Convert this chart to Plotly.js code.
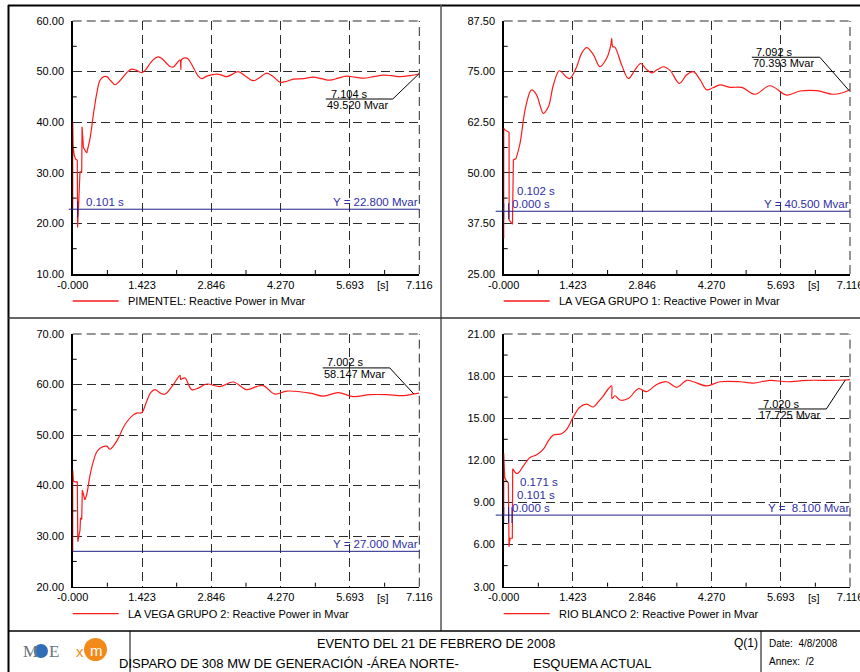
<!DOCTYPE html>
<html>
<head>
<meta charset="utf-8">
<script src="https://cdn.plot.ly/plotly-3.0.1.min.js"></script>
<style>
  html, body { margin: 0; padding: 0; background: #fff; }
  #chart { width: 860px; height: 672px; }
</style>
</head>
<body>
<div id="chart"></div>
<script>
// ---- time axis shared by all four plots (s) ----
const timeTicks = [0, 1.423, 2.846, 4.270, 5.693, 7.116];
const timeTickText = ['-0.000', '1.423', '2.846', '4.270', '5.693', '7.116'];

// ---- reactive power axes (Mvar) ----
const yTicks1 = [10, 20, 30, 40, 50, 60];
const yTicks2 = [25, 37.5, 50, 62.5, 75, 87.5];
const yTicks3 = [20, 30, 40, 50, 60, 70];
const yTicks4 = [3, 6, 9, 12, 15, 18, 21];

const seriesNames = [
  'PIMENTEL: Reactive Power in Mvar',
  'LA VEGA GRUPO 1: Reactive Power in Mvar',
  'LA VEGA GRUPO 2: Reactive Power in Mvar',
  'RIO BLANCO 2: Reactive Power in Mvar'
];

// ---- PIMENTEL ----
const pimentelStepT = [0, 0, 0.008, 0.03, 0.06, 0.094, 0.101, 0.15, 0.185, 0.192, 0.22, 0.287];
const pimentelStepQ = [22.8, 40.1, 35.5, 33.5, 32.7, 32.5, 19.2, 30.2, 30.2, 39.1, 35.0, 33.9];
const pimentelT = [0.287, 0.36, 0.424, 0.5, 0.561, 0.64, 0.70, 0.78, 0.869, 0.95, 1.04, 1.13, 1.211, 1.30, 1.416, 1.50, 1.587, 1.67, 1.758, 1.84, 1.929, 2.0, 2.066, 2.15, 2.203, 2.22, 2.237, 2.30, 2.36, 2.42, 2.50, 2.57, 2.648, 2.75, 2.88, 2.956, 3.06, 3.161, 3.28, 3.40, 3.55, 3.708, 3.85, 3.982, 4.12, 4.256, 4.40, 4.53, 4.74, 4.94, 5.11, 5.28, 5.45, 5.62, 5.80, 5.97, 6.18, 6.38, 6.55, 6.72, 6.92, 7.104, 7.116];
const pimentelQ = [33.9, 37.0, 41.5, 46.0, 48.3, 49.0, 49.0, 48.2, 47.4, 48.0, 49.0, 50.0, 50.5, 50.3, 49.8, 50.4, 51.6, 52.5, 52.9, 52.5, 51.6, 51.0, 50.9, 51.8, 52.3, 50.4, 52.4, 52.7, 52.6, 51.8, 50.4, 49.2, 48.6, 49.1, 49.4, 49.5, 49.3, 49.0, 49.5, 50.0, 49.1, 48.2, 48.9, 49.7, 49.0, 47.9, 48.1, 48.5, 48.6, 48.9, 48.6, 48.3, 48.7, 49.1, 48.9, 48.7, 49.0, 49.3, 49.2, 49.0, 49.2, 49.52, 49.55];

// ---- LA VEGA GRUPO 1 ----
const vega1StepT = [0, 0, 0, 0.027, 0.06, 0.096, 0.110, 0.112, 0.13, 0.164, 0.18, 0.199, 0.253];
const vega1StepQ = [40.5, 33.8, 61.0, 60.6, 60.3, 60.2, 60.0, 38.3, 38.0, 37.3, 37.3, 53.2, 53.5];
const vega1T = [0.253, 0.336, 0.438, 0.541, 0.575, 0.678, 0.75, 0.815, 0.918, 1.021, 1.144, 1.294, 1.363, 1.500, 1.60, 1.705, 1.842, 1.979, 2.116, 2.20, 2.219, 2.240, 2.288, 2.425, 2.562, 2.698, 2.815, 2.938, 3.041, 3.16, 3.281, 3.418, 3.609, 3.760, 3.897, 4.034, 4.171, 4.30, 4.445, 4.650, 4.890, 5.164, 5.472, 5.815, 6.089, 6.431, 6.774, 7.092, 7.116];
const vega1Q = [53.5, 57.3, 65.5, 70.0, 70.5, 69.2, 66.5, 64.7, 66.3, 71.7, 75.2, 73.6, 73.3, 76.2, 79.5, 80.9, 79.2, 76.2, 78.3, 81.5, 83.2, 81.2, 81.0, 76.6, 73.3, 75.4, 77.0, 75.5, 74.7, 75.5, 76.2, 75.3, 72.1, 74.2, 75.0, 73.0, 70.5, 71.0, 71.7, 71.1, 71.1, 69.4, 71.5, 69.2, 70.2, 70.3, 69.4, 70.393, 70.6];

// ---- LA VEGA GRUPO 2 ----
const vega2StepT = [0, 0, 0.015, 0.04, 0.094, 0.105, 0.15, 0.16, 0.185, 0.197, 0.25];
const vega2StepQ = [27.0, 43.1, 40.9, 40.8, 40.7, 28.9, 31.2, 33.6, 33.3, 39.1, 37.2];
const vega2T = [0.25, 0.287, 0.35, 0.424, 0.49, 0.561, 0.698, 0.766, 0.903, 1.074, 1.245, 1.33, 1.416, 1.519, 1.60, 1.690, 1.80, 1.895, 2.066, 2.203, 2.215, 2.237, 2.306, 2.443, 2.579, 2.751, 3.024, 3.298, 3.572, 3.777, 3.914, 4.153, 4.393, 4.872, 5.145, 5.453, 5.761, 6.103, 6.445, 6.787, 7.002, 7.116];
const vega2Q = [37.2, 38.2, 41.8, 44.8, 46.6, 47.4, 47.8, 47.2, 48.8, 52.1, 54.0, 54.4, 54.4, 56.7, 58.4, 59.0, 58.3, 58.1, 60.0, 61.8, 61.0, 61.1, 61.3, 59.0, 59.3, 60.1, 59.6, 60.5, 59.0, 59.6, 59.8, 58.1, 58.7, 58.3, 57.7, 58.4, 57.6, 58.0, 58.0, 57.8, 58.147, 58.3];

// ---- RIO BLANCO 2 ----
const rioStepT = [0, 0, 0.02, 0.06, 0.095, 0.11, 0.13, 0.177, 0.185, 0.22, 0.25];
const rioStepQ = [8.1, 12.5, 10.8, 10.5, 10.4, 5.85, 6.45, 6.45, 11.4, 11.2, 11.07];
const rioT = [0.25, 0.301, 0.404, 0.541, 0.678, 0.815, 0.92, 1.021, 1.192, 1.294, 1.431, 1.568, 1.705, 1.842, 1.95, 2.048, 2.15, 2.219, 2.226, 2.288, 2.390, 2.562, 2.767, 2.938, 3.144, 3.349, 3.555, 3.760, 3.897, 4.171, 4.445, 4.856, 5.130, 5.472, 5.815, 6.226, 6.705, 7.020, 7.116];
const rioQ = [11.07, 11.1, 11.6, 12.2, 12.4, 12.8, 13.4, 13.8, 13.9, 14.2, 15.1, 15.8, 16.0, 15.8, 16.2, 16.6, 17.1, 17.3, 16.4, 16.6, 16.3, 16.4, 17.1, 16.9, 17.4, 17.6, 17.2, 17.7, 17.6, 17.3, 17.6, 17.6, 17.5, 17.7, 17.6, 17.7, 17.7, 17.725, 17.75];

// ---- cursors: constant level (Y =) and time stamps ----
const levelQ = [22.8, 40.5, 27.0, 8.1];
const cursorT1 = [0.101];
const cursorT2 = [0.000, 0.102];
const cursorT3 = [];
const cursorT4 = [0.000, 0.101, 0.171];

// ---- end-of-run readouts ----
const readoutT = [7.104, 7.092, 7.002, 7.020];
const readoutQ = [49.520, 70.393, 58.147, 17.725];

// ================= drawing =================
const W = 860, H = 672;
const px = v => v / W;
const py = v => 1 - v / H;

const RED = '#ff1a1a';
const BLUE_LINE = '#20208a';
const BLUE_TEXT = '#2e2ea6';
const GRID = '#2c2c2c';
const DASH = '9px,5px';
const FONT = 'Liberation Sans, Arial, sans-serif';

const steps = [[pimentelStepT, pimentelStepQ], [vega1StepT, vega1StepQ], [vega2StepT, vega2StepQ], [rioStepT, rioStepQ]];
const swings = [[pimentelT, pimentelQ], [vega1T, vega1Q], [vega2T, vega2Q], [rioT, rioQ]];
const yTickSets = [yTicks1, yTicks2, yTicks3, yTicks4];
const cursorSets = [cursorT1, cursorT2, cursorT3, cursorT4];

// plot rectangles in page pixels
const frames = [
  { l: 72.7, r: 419.3, t: 21, b: 274, lineExt: 4 },
  { l: 503.7, r: 850, t: 21, b: 274, lineExt: 8 },
  { l: 72.7, r: 419.3, t: 334, b: 586.7, lineExt: 0 },
  { l: 503.7, r: 850, t: 334, b: 586.7, lineExt: 8 }
];
// readout callout geometry in pixels relative to the readout point (up = +)
const callouts = [
  { x0: -93, x1: -26, y: -25, tDx: -89, tDy: -20, vDx: -93, vDy: -31 },
  { x0: -97, x1: -29, y: 33, tDx: -94, tDy: 38, vDx: -97, vDy: 27 },
  { x0: -91, x1: -24, y: 26, tDx: -88, tDy: 32, vDx: -91, vDy: 20 },
  { x0: -87, x1: -19, y: -29, tDx: -83, tDy: -24, vDx: -87, vDy: -35 }
];

const mid = a => a.slice(1).map((v, i) => (v + a[i]) / 2);

const traces = [];
const layout = {
  width: W, height: H, autosize: false,
  margin: { l: 0, r: 0, t: 0, b: 0 },
  paper_bgcolor: '#fff', plot_bgcolor: '#fff',
  showlegend: false,
  font: { family: FONT, size: 11, color: '#000' },
  shapes: [], annotations: []
};

frames.forEach((f, i) => {
  const n = i === 0 ? '' : String(i + 1);
  const xa = 'x' + n, ya = 'y' + n;
  const yt = yTickSets[i];

  traces.push({
    x: steps[i][0], y: steps[i][1], xaxis: xa, yaxis: ya,
    type: 'scatter', mode: 'lines', hoverinfo: 'skip',
    line: { color: RED, width: 1.2 }
  });
  traces.push({
    x: swings[i][0], y: swings[i][1], xaxis: xa, yaxis: ya,
    type: 'scatter', mode: 'lines', hoverinfo: 'skip', name: seriesNames[i],
    line: { color: RED, width: 1.2, shape: 'spline', smoothing: 1 }
  });

  layout['xaxis' + n] = {
    domain: [px(f.l), px(f.r)], anchor: ya,
    range: [timeTicks[0], timeTicks[timeTicks.length - 1]],
    tickmode: 'array', tickvals: timeTicks, ticktext: timeTickText,
    ticks: '', showgrid: true, gridcolor: GRID, gridwidth: 1, griddash: DASH,
    zeroline: false, showline: true, linecolor: '#000', linewidth: 1.5,
    layer: 'below traces', fixedrange: true, ticklabeloverflow: 'allow',
    tickfont: { family: FONT, size: 11, color: '#000' }
  };
  layout['yaxis' + n] = {
    domain: [py(f.b), py(f.t)], anchor: xa,
    range: [yt[0], yt[yt.length - 1]],
    tickmode: 'array', tickvals: yt, ticktext: yt.map(v => v.toFixed(2)),
    ticks: '', showgrid: true, gridcolor: GRID, gridwidth: 1, griddash: DASH,
    zeroline: false, showline: true, linecolor: '#000', linewidth: 1.5,
    layer: 'below traces', fixedrange: true, ticklabelstandoff: 5,
    tickfont: { family: FONT, size: 11, color: '#000' }
  };

  // dashed top and right edges of the grid
  layout.shapes.push(
    { type: 'line', xref: xa + ' domain', yref: ya + ' domain', x0: 0, x1: 1, y0: 1, y1: 1, line: { color: GRID, width: 1, dash: DASH } },
    { type: 'line', xref: xa + ' domain', yref: ya + ' domain', x0: 1, x1: 1, y0: 0, y1: 1, line: { color: GRID, width: 1, dash: DASH } }
  );

  // short inside ticks between the labelled values
  mid(timeTicks).forEach(t => layout.shapes.push({
    type: 'line', xref: xa, yref: ya + ' domain', x0: t, x1: t,
    ysizemode: 'pixel', yanchor: 0, y0: 0, y1: 4, line: { color: '#000', width: 1 }
  }));
  mid(yt).forEach(v => layout.shapes.push({
    type: 'line', xref: xa + ' domain', yref: ya, y0: v, y1: v,
    xsizemode: 'pixel', xanchor: 0, x0: 0, x1: 4, line: { color: '#000', width: 1 }
  }));

  // constant level cursor
  const ext = f.lineExt / (f.r - f.l);
  layout.shapes.push({ type: 'line', xref: xa + ' domain', yref: ya, x0: -ext, x1: 1, y0: levelQ[i], y1: levelQ[i], line: { color: BLUE_LINE, width: 1 } });
  const lvl = levelQ[i].toFixed(3);
  layout.annotations.push({
    xref: xa + ' domain', yref: ya, x: 1, y: levelQ[i], xanchor: 'right', yanchor: 'bottom',
    text: 'Y = ' + (lvl.length < 6 ? '\u00a0' : '') + lvl + ' Mvar',
    showarrow: false, font: { family: FONT, size: 11.5, color: BLUE_TEXT }, borderpad: 0
  });

  // time stamps
  cursorSets[i].forEach((t, k) => {
    layout.shapes.push({
      type: 'line', xref: xa, yref: ya, x0: t, x1: t,
      ysizemode: 'pixel', yanchor: levelQ[i], y0: -8, y1: 8,
      line: { color: BLUE_LINE, width: 1 }
    });
    layout.annotations.push({
      xref: xa, yref: ya, x: t, y: levelQ[i], xanchor: 'left', yanchor: 'middle',
      xshift: 7, yshift: 7 + 13 * k, text: t.toFixed(3) + ' s',
      showarrow: false, font: { family: FONT, size: 11.5, color: BLUE_TEXT }, borderpad: 0
    });
  });

  // end-of-run readout callout
  const c = callouts[i];
  layout.shapes.push(
    { type: 'line', xref: xa, yref: ya, xsizemode: 'pixel', ysizemode: 'pixel', xanchor: readoutT[i], yanchor: readoutQ[i], x0: 0, y0: 0, x1: c.x1, y1: c.y, line: { color: '#000', width: 1 } },
    { type: 'line', xref: xa, yref: ya, xsizemode: 'pixel', ysizemode: 'pixel', xanchor: readoutT[i], yanchor: readoutQ[i], x0: c.x0, y0: c.y, x1: c.x1, y1: c.y, line: { color: '#000', width: 1 } }
  );
  layout.annotations.push(
    { xref: xa, yref: ya, x: readoutT[i], y: readoutQ[i], xanchor: 'left', yanchor: 'middle', xshift: c.tDx, yshift: c.tDy,
      text: readoutT[i].toFixed(3) + ' s', showarrow: false, borderpad: 0, font: { family: FONT, size: 11, color: '#000' } },
    { xref: xa, yref: ya, x: readoutT[i], y: readoutQ[i], xanchor: 'left', yanchor: 'middle', xshift: c.vDx, yshift: c.vDy,
      text: readoutQ[i].toFixed(3) + ' Mvar', showarrow: false, borderpad: 0, font: { family: FONT, size: 11, color: '#000' } }
  );

  // unit label on the time axis
  layout.annotations.push({
    xref: xa + ' domain', yref: ya + ' domain', x: 0.896, y: 0, xanchor: 'center', yanchor: 'middle', yshift: -11,
    text: '[s]', showarrow: false, font: { family: FONT, size: 11, color: '#000' }
  });

  // legend entry under each plot
  const ly = f.b + 27;
  layout.shapes.push({ type: 'line', xref: 'paper', yref: 'paper', x0: px(f.l), x1: px(f.l + 46), y0: py(ly), y1: py(ly), line: { color: RED, width: 1.3 } });
  layout.annotations.push({
    xref: 'paper', yref: 'paper', x: px(f.l + 53), y: py(ly), xanchor: 'left', yanchor: 'middle',
    text: seriesNames[i], showarrow: false, font: { family: FONT, size: 11, color: '#000' }
  });
});

// ---- sheet frame ----
const frameLine = (x0, y0, x1, y1, color, width) => ({
  type: 'line', xref: 'paper', yref: 'paper', x0: px(x0), y0: py(y0), x1: px(x1), y1: py(y1),
  line: { color: color, width: width }
});
layout.shapes.push(
  frameLine(8.5, 5, 8.5, 672, '#000', 2),
  frameLine(8, 5.5, 860, 5.5, '#000', 2),
  frameLine(441, 5, 441, 631, '#555', 1.5),
  frameLine(8, 318, 860, 318, '#333', 1.5),
  frameLine(8, 631, 860, 631, '#000', 1.5),
  frameLine(130, 631, 130, 672, '#000', 1),
  frameLine(761, 631, 761, 672, '#000', 1)
);

// ---- title block ----
const note = (x, y, text, size, anchor, color, extra) => Object.assign({
  xref: 'paper', yref: 'paper', x: px(x), y: py(y), xanchor: anchor || 'left', yanchor: 'middle',
  text: text, showarrow: false, font: { family: FONT, size: size, color: color || '#000' }
}, extra || {});
layout.annotations.push(
  note(436, 643, 'EVENTO DEL 21 DE FEBRERO DE 2008', 12.8, 'center'),
  note(117, 663, 'DISPARO DE 308 MW DE GENERACIÓN -ÁREA NORTE-', 13),
  note(531, 663, 'ESQUEMA ACTUAL', 13),
  note(732, 643, 'Q(1)', 12),
  note(767, 643, 'Date:\u00a0 4/8/2008', 10),
  note(767, 661, 'Annex:\u00a0 /2', 10)
);

// logos
layout.shapes.push(
  { type: 'circle', xref: 'paper', yref: 'paper', x0: px(34), x1: px(48), y0: py(658), y1: py(644), fillcolor: '#2f6fb8', line: { width: 0 } },
  { type: 'circle', xref: 'paper', yref: 'paper', x0: px(84), x1: px(107), y0: py(661), y1: py(638), fillcolor: '#f28a1a', line: { width: 0 } }
);
layout.annotations.push(
  note(21, 651, 'M', 17, 'left', '#6a7480', { font: { family: 'Liberation Serif, serif', size: 17, color: '#6a7480' } }),
  note(47, 651, 'E', 17, 'left', '#6a7480', { font: { family: 'Liberation Serif, serif', size: 17, color: '#6a7480' } }),
  note(80, 651, 'x', 14, 'center', '#f28a1a', { font: { family: FONT, size: 15, color: '#f28a1a' } }),
  note(96, 650, 'm', 14, 'center', '#fff', { font: { family: FONT, size: 15, color: '#ffffff' } })
);

Plotly.newPlot('chart', traces, layout, { staticPlot: true, displayModeBar: false });
</script>
</body>
</html>
